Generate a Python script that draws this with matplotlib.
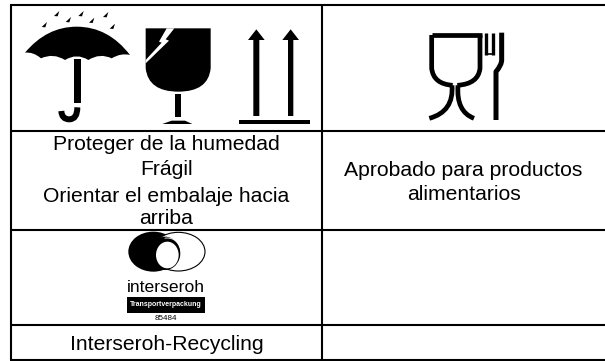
"""Table of packaging symbols with Spanish captions."""

import matplotlib
matplotlib.use("Agg")
import matplotlib.pyplot as plt
from matplotlib.patches import Arc, Ellipse, PathPatch, Polygon, Rectangle
from matplotlib.path import Path

LEFT_CAPTION = ["Proteger de la humedad", "Frágil", "Orientar el embalaje hacia", "arriba"]
RIGHT_CAPTION = ["Aprobado para productos", "alimentarios"]
LOGO_NAME = "interseroh"
LOGO_BAR = "Transportverpackung"
LOGO_NUMBER = "85484"
RECYCLING_LABEL = "Interseroh-Recycling"

COLUMN_EDGES = [11, 322]
TABLE_RIGHT = 605
ROW_EDGES = [5, 130.5, 230, 324.5, 359.5]
LEFT_BASELINES = [150.5, 175, 202, 224]
RIGHT_BASELINES = [175.5, 200]
RECYCLING_BASELINE = 350


def z1(points):
    return [(15 + x / 3, y / 3) for x, y in points]


def z3(points):
    return [(400 + x / 3, 10 + y / 3) for x, y in points]


def logo_ellipse(ax, cx, cy, w, h, **kwargs):
    # logo crop, 3x zoom at (120, 230)
    ax.add_patch(Ellipse((120 + cx / 3, 230 + cy / 3), w / 3, h / 3, **kwargs))


def curve(ax, points, fill=True, lw=0, capstyle="butt"):
    verts = [points[0]]
    codes = [Path.MOVETO]
    for i in range(1, len(points) - 1, 2):
        verts += [points[i], points[i + 1]]
        codes += [Path.CURVE3, Path.CURVE3]
    patch = PathPatch(Path(verts, codes), facecolor="black" if fill else "none",
                      edgecolor="black", linewidth=lw, capstyle=capstyle, joinstyle="round")
    ax.add_patch(patch)


def stroke(ax, points, lw):
    xs, ys = zip(*points)
    ax.plot(xs, ys, color="black", lw=lw, solid_capstyle="butt", solid_joinstyle="miter")


fig = plt.figure(figsize=(6.05, 3.61), dpi=100)
ax = fig.add_axes([0, 0, 1, 1])
ax.set_xlim(0, 605)
ax.set_ylim(361, 0)
ax.axis("off")
plt.rcParams["font.family"] = ["Liberation Sans", "DejaVu Sans"]

# table grid, the right border is cut off by the image edge
for y in ROW_EDGES:
    ax.plot([COLUMN_EDGES[0] - 1, TABLE_RIGHT], [y, y], color="black", lw=1.5, solid_capstyle="butt")
for x in COLUMN_EDGES:
    ax.plot([x, x], [ROW_EDGES[0], ROW_EDGES[-1]], color="black", lw=1.5, solid_capstyle="butt")

# umbrella
curve(ax, z1([(30, 158), (95, 80), (185, 80), (280, 80), (345, 165),
              (318, 158), (290, 175), (255, 158), (220, 180), (185, 158), (150, 180),
              (115, 158), (78, 175), (55, 155), (30, 158)]))
ax.add_patch(Polygon(z1([(178, 178), (197, 178), (197, 308), (178, 308)]), color="black", lw=0))
curve(ax, z1([(187, 322), (187, 358), (163, 358), (140, 358), (139, 333)]), fill=False, lw=4.3)
for dx, dy in [(125, 42), (198, 42), (272, 45), (88, 75), (160, 60), (230, 62), (292, 80)]:
    ax.add_patch(Polygon(z1([(dx + 8, dy - 9), (dx + 3, dy + 7), (dx - 8, dy + 6)]), color="black", lw=0))

# broken glass
curve(ax, z1([(392, 85), (587, 85), (587, 85), (587, 205), (587, 205), (580, 275), (490, 275),
              (400, 275), (392, 205), (392, 145), (392, 85)]))
ax.add_patch(Polygon(z1([(480, 282), (497, 282), (497, 352), (480, 352)]), color="black", lw=0))
ax.add_patch(Polygon(z1([(442, 372), (470, 362), (510, 362), (532, 372)]), color="black", lw=0))
ax.add_patch(Polygon(z1([(392, 180), (440, 128), (432, 125), (455, 85), (478, 85), (452, 118),
                         (462, 122), (392, 190)]), color="white", lw=0))

# this way up
for shaft in [(715, 733), (819, 835)]:
    mid = sum(shaft) / 2
    ax.add_patch(Polygon(z1([(shaft[0], 348), (shaft[0], 120), (mid - 25, 120), (mid, 88), (mid + 25, 120),
                             (shaft[1], 120), (shaft[1], 348)]), color="black", lw=0))
ax.add_patch(Rectangle(z1([(673, 360)])[0], 211 / 3, 13 / 3, color="black", lw=0))

# glass and fork
stroke(ax, z3([(95, 75), (245, 75)]), 3.4)
curve(ax, z3([(95, 75), (95, 125), (95, 175), (100, 222), (158, 226)]), fill=False, lw=3.4)
curve(ax, z3([(240, 75), (240, 125), (240, 175), (235, 222), (172, 226)]), fill=False, lw=3.4)
curve(ax, z3([(156, 226), (162, 305), (88, 325)]), fill=False, lw=3.4)
curve(ax, z3([(174, 226), (168, 305), (222, 325)]), fill=False, lw=3.4)
stroke(ax, z3([(258, 68), (258, 135)]), 2.4)
stroke(ax, z3([(280, 68), (280, 135)]), 2.4)
stroke(ax, z3([(258, 133), (280, 133)]), 1.2)
curve(ax, z3([(305, 68), (305, 110), (305, 150), (305, 165), (288, 185), (288, 260), (288, 330)]),
      fill=False, lw=3.6)

# interseroh logo
logo_ellipse(ax, 100, 65, 150, 120, color="black", lw=0)
logo_ellipse(ax, 175, 65, 160, 116, facecolor="white", edgecolor="black", lw=0.8)
logo_ellipse(ax, 135, 70, 92, 100, color="black", lw=0)
logo_ellipse(ax, 142, 75, 68, 80, color="white", lw=0)
ax.add_patch(Arc((120 + 142 / 3, 230 + 70 / 3), 84 / 3, 92 / 3, theta1=-100, theta2=50,
                 color="white", lw=0.6))
ax.text(166, 291.5, LOGO_NAME, ha="center", va="baseline", fontsize=12.6, color="black")
ax.add_patch(Rectangle((127, 297), 78, 15.7, color="black", lw=0))
ax.text(166, 304.8, LOGO_BAR, ha="center", va="center", fontsize=5, color="white", fontweight="bold")
ax.text(166, 319, LOGO_NUMBER, ha="center", va="center", fontsize=5.8, color="black")

# captions
for label, y in zip(LEFT_CAPTION, LEFT_BASELINES):
    ax.text(166.5, y, label, ha="center", va="baseline", fontsize=15.2, color="black")
for label, y in zip(RIGHT_CAPTION, RIGHT_BASELINES):
    ax.text(463.5, y, label, ha="center", va="baseline", fontsize=15.2, color="black")
ax.text(166.5, RECYCLING_BASELINE, RECYCLING_LABEL, ha="center", va="baseline", fontsize=15.2, color="black")

fig.savefig("out.png", dpi=100)
